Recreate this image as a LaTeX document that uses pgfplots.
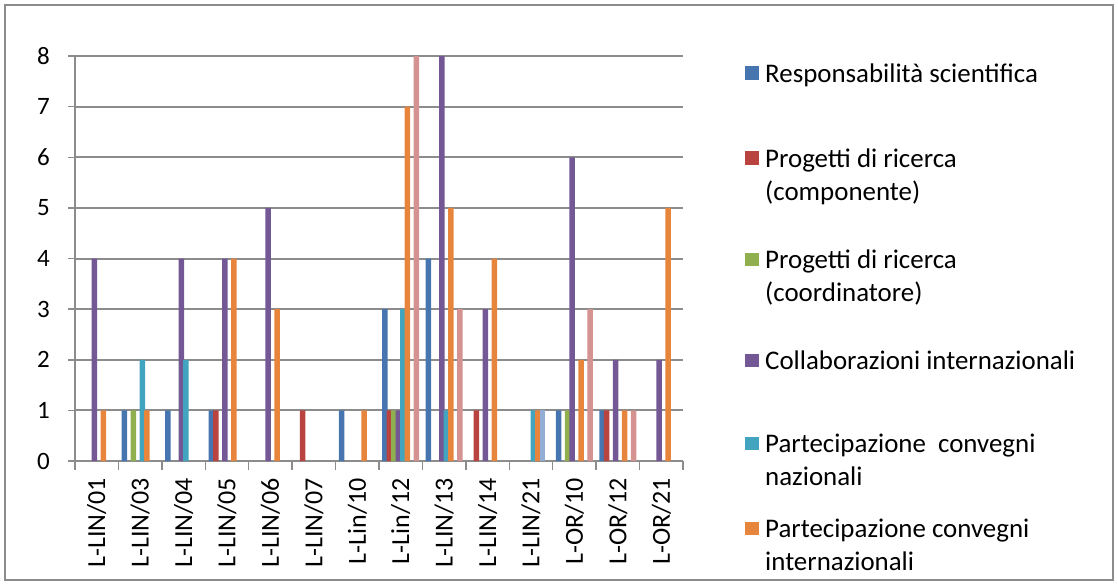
\documentclass[border=0pt]{standalone}
\usepackage{fontspec}
\setmainfont{Carlito}
\usepackage{pgfplots}
\pgfplotsset{compat=1.18}

% series colours (Office 2007 palette, slightly shaded)
\definecolor{sBlue}{HTML}{4675B0}
\definecolor{sRed}{HTML}{B8433F}
\definecolor{sGreen}{HTML}{90B04F}
\definecolor{sPurple}{HTML}{745896}
\definecolor{sCyan}{HTML}{42A4BE}
\definecolor{sOrange}{HTML}{E8853D}
\definecolor{sLight}{HTML}{93AED6}
\definecolor{sPink}{HTML}{D49391}
\definecolor{gridgray}{HTML}{8C8C8C}

\newcommand\legtext[2]{\begin{tabular}[t]{@{}l@{}}#1\rule[-#2]{0pt}{0pt}\end{tabular}}

\begin{document}
\begin{tikzpicture}
\useasboundingbox (0pt,0pt) rectangle (1118pt,-585pt);
\draw[gridgray, line width=1.2pt] (5pt,-5pt) rectangle (1113pt,-580pt);
\begin{axis}[
    at={(75pt,-461pt)}, anchor=south west,
    scale only axis, width=608pt, height=405pt,
    xmin=-0.5, xmax=13.5, ymin=0, ymax=8,
    ybar=-1pt, bar width=5.5pt,
    every axis plot/.append style={draw=none,
        legend image code/.code={\path (0pt,0pt); \fill[##1] (0pt,2.5pt) rectangle (14pt,16pt);}},
    axis lines*=left,
    axis line style={-, gridgray, line width=2pt},
    ymajorgrids, grid style={gridgray, line width=2pt},
    tick align=outside,
    tick style={gridgray, line width=1.5pt},
    major tick length=7pt, minor tick length=9pt,
    ytick={0,1,...,8},
    xtick={0,1,...,13},
    every major x tick/.append style={draw=none},
    minor xtick={-0.5,0.5,...,13.5},
    xticklabels={L-LIN/01,L-LIN/03,L-LIN/04,L-LIN/05,L-LIN/06,L-LIN/07,L-Lin/10,
                 L-Lin/12,L-LIN/13,L-LIN/14,L-LIN/21,L-OR/10,L-OR/12,L-OR/21},
    /pgf/number format/assume math mode=true,
    yticklabel style={font=\fontsize{25}{30}\selectfont, inner sep=0pt, xshift=-18pt},
    xticklabel style={font=\fontsize{26}{30}\selectfont, rotate=90, anchor=east, inner sep=0pt},
    xticklabel shift=10pt,
    legend style={at={(1.102,0.9926)}, anchor=north west, draw=none, fill=none,
        inner sep=0pt, row sep=0pt, column sep=6pt,
        cells={anchor=base west},
        nodes={inner sep=0pt, text depth=, font=\fontsize{26.9}{33}\selectfont}},
]
\addplot[fill=sBlue] coordinates {(1,1)(2,1)(3,1)(6,1)(7,3)(8,4)(11,1)(12,1)};
\addlegendentry{\legtext{Responsabilità scientifica}{62pt}}
\addplot[fill=sRed] coordinates {(3,1)(5,1)(7,1)(9,1)(12,1)};
\addlegendentry{\legtext{Progetti di ricerca\\(componente)}{45pt}}
\addplot[fill=sGreen] coordinates {(1,1)(7,1)(11,1)};
\addlegendentry{\legtext{Progetti di ricerca\\(coordinatore)}{45pt}}
\addplot[fill=sPurple] coordinates {(0,4)(2,4)(3,4)(4,5)(7,1)(8,8)(9,3)(11,6)(12,2)(13,2)};
\addlegendentry{\legtext{Collaborazioni internazionali}{60pt}}
\addplot[fill=sCyan] coordinates {(1,2)(2,2)(7,3)(8,1)(10,1)};
\addlegendentry{\legtext{Partecipazione\ \ convegni\\nazionali}{29pt}}
\addplot[fill=sOrange] coordinates {(0,1)(1,1)(3,4)(4,3)(6,1)(7,7)(8,5)(9,4)(10,1)(11,2)(12,1)(13,5)};
\addlegendentry{\legtext{Partecipazione convegni\\internazionali}{0pt}}
\addplot[fill=sLight] coordinates {(10,1)};
\addplot[fill=sPink] coordinates {(7,8)(8,3)(11,3)(12,1)};
\end{axis}
\end{tikzpicture}
\end{document}
